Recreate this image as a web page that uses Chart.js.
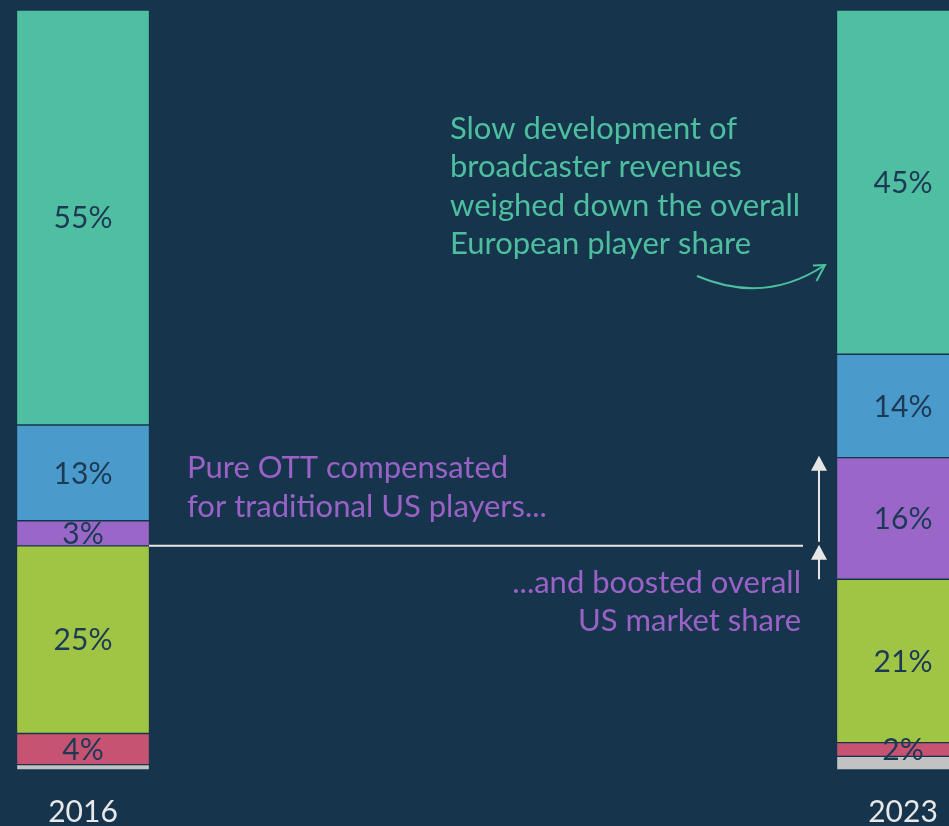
<!DOCTYPE html>
<html><head><meta charset="utf-8">
<script src="https://cdn.jsdelivr.net/npm/chart.js@4/dist/chart.umd.min.js"></script>
<style>html,body{margin:0;padding:0;background:#16354d;overflow:hidden;} canvas{display:block;}</style>
</head><body>
<canvas id="c" width="949" height="826"></canvas>
<script>
// ---- data ----
const years = ['2016', '2023'];
const otherShare  = [0.7, 1.8];   // grey
const redShare    = [4.1, 1.8];
const greenShare  = [24.7, 21.5];
const purpleShare = [3.3, 16.0];
const blueShare   = [12.6, 13.6];
const tealShare   = [54.6, 45.3];

const otherLabels  = [null, null];
const redLabels    = ['4%', '2%'];
const greenLabels  = ['25%', '21%'];
const purpleLabels = ['3%', '16%'];
const blueLabels   = ['13%', '14%'];
const tealLabels   = ['55%', '45%'];

const noteTeal = ['Slow development of', 'broadcaster revenues', 'weighed down the overall', 'European player share'];
const notePurple1 = ['Pure OTT compensated', 'for traditional US players...'];
const notePurple2 = ['...and boosted overall', 'US market share'];

const FONT = 'Lato, "Open Sans", sans-serif';
const C = {
  bg: '#16354d', teal: '#50bfa1', blue: '#4a9bcb', purple: '#9a67c8',
  green: '#a0c444', red: '#c75372', grey: '#c2c2c2',
  label: '#1c3a55', tealText: '#4dbf9f', purpleText: '#9a62c6', line: '#e6e6e6', year: '#e8e8e8'
};

function ds(label, data, color, labels) {
  return { label, data, backgroundColor: color, borderColor: 'rgba(22,53,77,0.2)', borderWidth: 1,
           borderSkipped: false, barThickness: 133, clip: false, pctLabels: labels };
}

const annot = {
  id: 'annot',
  afterDatasetsDraw(chart) {
    const ctx = chart.ctx;
    const y = chart.scales.y;
    ctx.save();
    // segment labels
    ctx.font = '30px ' + FONT;
    ctx.fillStyle = C.label;
    ctx.textAlign = 'center';
    ctx.textBaseline = 'middle';
    chart.data.datasets.forEach((d, i) => {
      const meta = chart.getDatasetMeta(i);
      meta.data.forEach((el, j) => {
        const t = d.pctLabels[j];
        if (!t) return;
        ctx.fillText(t, el.x, (el.y + el.base) / 2 + 1);
      });
    });
    // texts
    ctx.font = '31px ' + FONT;
    ctx.textBaseline = 'alphabetic';
    ctx.textAlign = 'left';
    ctx.fillStyle = C.tealText;
    noteTeal.forEach((t, k) => ctx.fillText(t, 450, 139 + k * 38.3));
    ctx.fillStyle = C.purpleText;
    notePurple1.forEach((t, k) => ctx.fillText(t, 187, 478 + k * 38.5));
    ctx.textAlign = 'right';
    notePurple2.forEach((t, k) => ctx.fillText(t, 801, 593 + k * 37.5));

    // horizontal reference line at 2016 US share
    const us2016 = otherShare[0] + redShare[0] + greenShare[0];
    const us2023trad = otherShare[1] + redShare[1] + greenShare[1];
    const us2023 = us2023trad + purpleShare[1];
    const yLine = y.getPixelForValue(us2016);
    const x0 = chart.getDatasetMeta(0).data[0].x + 66;
    ctx.strokeStyle = C.line;
    ctx.fillStyle = C.line;
    ctx.lineWidth = 2;
    ctx.beginPath(); ctx.moveTo(x0, yLine); ctx.lineTo(803, yLine); ctx.stroke();

    function arrow(x, yTail, yTip) {
      ctx.beginPath(); ctx.moveTo(x, yTail); ctx.lineTo(x, yTip + 12); ctx.stroke();
      ctx.beginPath(); ctx.moveTo(x, yTip); ctx.lineTo(x - 8, yTip + 15); ctx.lineTo(x + 8, yTip + 15); ctx.closePath(); ctx.fill();
    }
    arrow(819, yLine - 4, y.getPixelForValue(us2023) - 2);
    arrow(819, y.getPixelForValue(us2023trad), yLine - 1);

    // curved teal arrow
    ctx.strokeStyle = C.tealText;
    ctx.lineWidth = 2;
    ctx.beginPath(); ctx.moveTo(697, 276); ctx.quadraticCurveTo(765, 305, 825, 265); ctx.stroke();
    ctx.beginPath(); ctx.moveTo(813, 265.5); ctx.lineTo(825, 265); ctx.lineTo(816.5, 281); ctx.stroke();
    ctx.restore();
  }
};

new Chart(document.getElementById('c'), {
  type: 'bar',
  data: {
    labels: years,
    datasets: [
      ds('Other', otherShare, C.grey, otherLabels),
      ds('Other players', redShare, C.red, redLabels),
      ds('Traditional US players', greenShare, C.green, greenLabels),
      ds('US pure OTT', purpleShare, C.purple, purpleLabels),
      ds('Other European players', blueShare, C.blue, blueLabels),
      ds('European broadcasters', tealShare, C.teal, tealLabels)
    ]
  },
  options: {
    responsive: false,
    animation: false,
    devicePixelRatio: 1,
    layout: { padding: { left: 83, right: 46, top: 10, bottom: 0 } },
    plugins: { legend: { display: false }, tooltip: { enabled: false } },
    scales: {
      x: {
        stacked: true, offset: false,
        grid: { display: false, drawTicks: false }, border: { display: false },
        ticks: { color: C.year, font: { family: FONT, size: 30, lineHeight: 1 }, padding: 27, maxRotation: 0, autoSkip: false },
        afterFit: s => { s.height = 56; s.paddingLeft = 0; s.paddingRight = 0; }
      },
      y: { stacked: true, display: false, min: 0, max: 100 }
    }
  },
  plugins: [annot]
});
</script></body></html>
